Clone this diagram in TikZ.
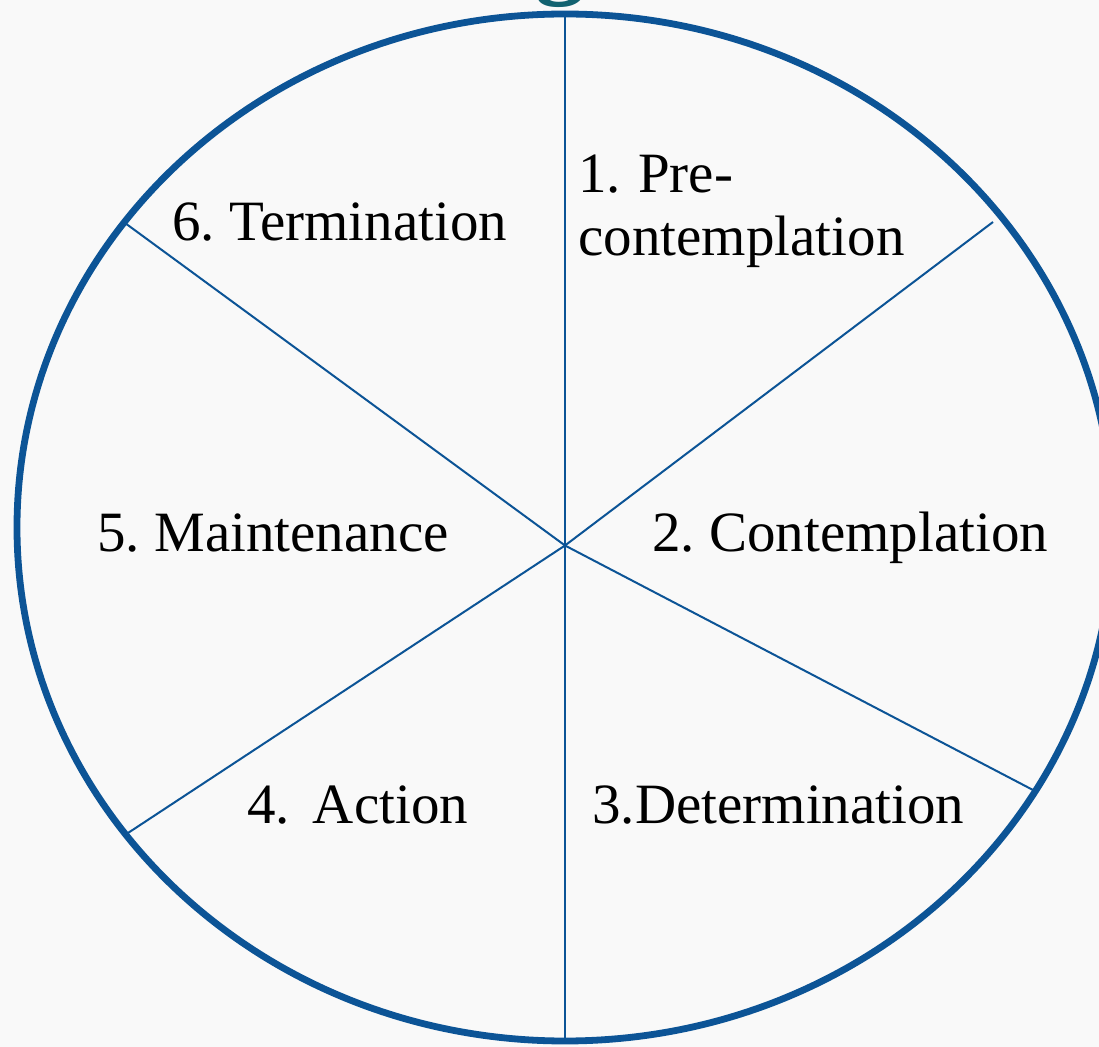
\documentclass[tikz,border=0pt]{standalone}
\usepackage{fontspec}
\setmainfont{Liberation Serif}
\frenchspacing
\definecolor{wheelblue}{RGB}{12,84,150}
\definecolor{titleteal}{RGB}{18,98,112}
\definecolor{paper}{RGB}{249,249,249}
\begin{document}
\begin{tikzpicture}[x=0.5pt,y=-0.5pt,
  rim/.style={draw=wheelblue,line width=3.4pt},
  spoke/.style={draw=wheelblue,line width=1pt},
  stage/.style={inner sep=0pt,anchor=base west,font=\fontsize{28.5pt}{34pt}\selectfont,text=black}]
  % page and background
  \fill[paper] (0,0) rectangle (1099,1047);
  \useasboundingbox (0,0) rectangle (1099,1047);
  % descender of the heading letter above the wheel
  \node[inner sep=0pt,anchor=base,text=titleteal,font=\fontsize{50pt}{58pt}\selectfont\bfseries] (head) at (560,-14) {g};
  % hub and rim points of the spokes
  \coordinate (hub) at (565,545.5);
  \coordinate (top) at (565,14);
  \coordinate (bot) at (565,1041);
  \coordinate (ur) at (993,222);
  \coordinate (lr) at (1033,790);
  \coordinate (ll) at (128,833);
  \coordinate (ul) at (125,223);
  \draw[spoke] (top) -- (bot);
  \draw[spoke] (hub) -- (ur);
  \draw[spoke] (hub) -- (lr);
  \draw[spoke] (hub) -- (ll);
  \draw[spoke] (hub) -- (ul);
  % outer rim
  \draw[rim] (565,527.5) ellipse [x radius=274pt, y radius=256.75pt];
  % stage labels
  \node[stage] (s1a) at (578,193) {1.\hspace{0.3em}Pre-};
  \node[stage] (s1b) at (578,256) {contemplation};
  \node[stage] (s2) at (652,552) {2. Contemplation};
  \node[stage] (s3) at (592,824) {3.Determination};
  \node[stage] (s4) at (247,824) {4.\hspace{0.4em}Action};
  \node[stage] (s5) at (97,552) {5. Maintenance};
  \node[stage] (s6) at (172,241) {6. Termination};
\end{tikzpicture}
\end{document}
